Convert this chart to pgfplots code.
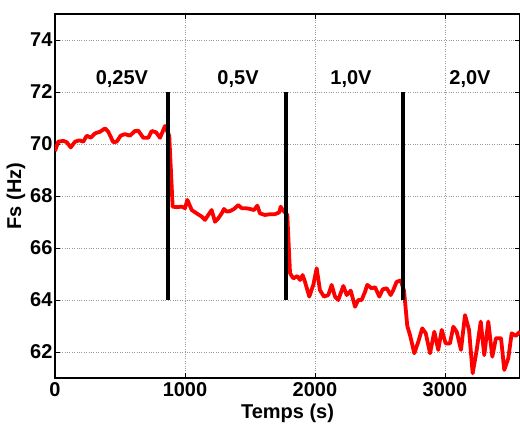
\documentclass[border=0pt]{standalone}
\usepackage{pgfplots}
\pgfplotsset{compat=1.18}
\usepackage{fontspec}
\setmainfont{Liberation Sans}
\begin{document}
\begin{tikzpicture}
\begin{axis}[
    name=ax,
    scale only axis,
    width=465pt, height=364pt,
    xmin=0, xmax=3577, ymin=61, ymax=75,
    xtick={0,1000,2000,3000},
    ytick={62,64,66,68,70,72,74},
    tick align=inside,
    major tick length=5pt,
    every tick/.style={black, line width=0.8pt},
    axis line style={line width=1.6pt},
    grid=major,
    grid style={dotted, gray!80, line width=0.6pt},
    font=\fontsize{20}{22}\selectfont\bfseries,
    ticklabel style={font=\fontsize{20}{22}\selectfont\bfseries},
    label style={font=\fontsize{20}{22}\selectfont\bfseries},
    /pgf/number format/assume math mode=true,
    /pgf/number format/1000 sep={},
    yticklabel style={xshift=1pt},
    xticklabel style={yshift=-1pt},
    xlabel={Temps (s)},
    ylabel={Fs (Hz)},
    xlabel style={yshift=0pt},
    ylabel style={yshift=-2pt},
    clip=true,
]
\addplot[red, line width=3.8pt, line join=round] coordinates {
(0,69.73) (25,70.09) (64,70.12) (90,70.07) (121,69.87) (154,70.09) (187,70.14)
(218,70.09) (244,70.32) (275,70.24) (308,70.41) (346,70.47) (385,70.60)
(410,70.47) (448,70.07) (475,70.09) (505,70.32) (538,70.38) (577,70.32)
(615,70.50) (641,70.51) (679,70.24) (718,70.24) (744,70.50) (777,70.45)
(808,70.24) (846,70.69) (879,70.31)
(905,67.59) (936,67.57) (975,67.59) (1000,67.53) (1018,67.85) (1052,67.46)
(1090,67.33) (1128,67.21) (1154,67.08) (1179,67.27) (1205,67.46) (1231,67.01)
(1256,67.14) (1282,67.33) (1300,67.50) (1321,67.40) (1346,67.42) (1377,67.50)
(1410,67.65) (1436,67.53) (1469,67.53) (1500,67.50) (1531,67.46) (1556,67.63)
(1577,67.33) (1615,67.27) (1654,67.30) (1692,67.30) (1725,67.37) (1736,67.59)
(1752,67.46) (1787,67.27)
(1808,65.03) (1833,64.83) (1864,64.92) (1885,64.77) (1905,64.96) (1923,64.70)
(1956,64.13) (1987,64.58) (2013,65.22) (2038,64.38) (2069,64.13) (2102,64.19)
(2128,64.58) (2154,64.13) (2179,64.00) (2218,64.54) (2244,64.19) (2275,64.36)
(2308,63.74) (2333,64.00) (2359,64.00) (2385,64.32) (2402,64.58) (2436,64.45)
(2462,64.49) (2495,64.13) (2521,64.41) (2552,64.45) (2582,64.19) (2602,64.38)
(2628,64.70) (2660,64.75) (2685,64.35)
(2710,63.00) (2731,62.65) (2764,61.95) (2795,62.40) (2825,62.91) (2852,62.72)
(2885,61.95) (2918,62.78) (2948,62.08) (2975,62.85) (3005,62.33) (3038,62.33)
(3064,62.97) (3090,62.78) (3123,62.08) (3154,63.42) (3185,62.85) (3213,61.18)
(3244,62.08) (3275,63.17) (3302,61.88) (3333,63.17) (3364,61.82) (3392,62.53)
(3431,62.53) (3456,61.31) (3487,61.76) (3513,62.72) (3544,62.62) (3577,62.78)
};
\addplot[black, line width=3.2pt] coordinates {(869,64) (869,72)};
\addplot[black, line width=3.2pt] coordinates {(1777,64) (1777,72)};
\addplot[black, line width=3.2pt] coordinates {(2677,64) (2677,72)};
\node[anchor=south] at (axis cs:515,72.05) {0,25V};
\node[anchor=south] at (axis cs:1408,72.05) {0,5V};
\node[anchor=south] at (axis cs:2277,72.05) {1,0V};
\node[anchor=south] at (axis cs:3192,72.05) {2,0V};
\end{axis}
\pgfresetboundingbox
\path ([xshift=-55pt,yshift=-46pt]ax.south west) rectangle ([yshift=14pt]ax.north east);
\end{tikzpicture}
\end{document}
